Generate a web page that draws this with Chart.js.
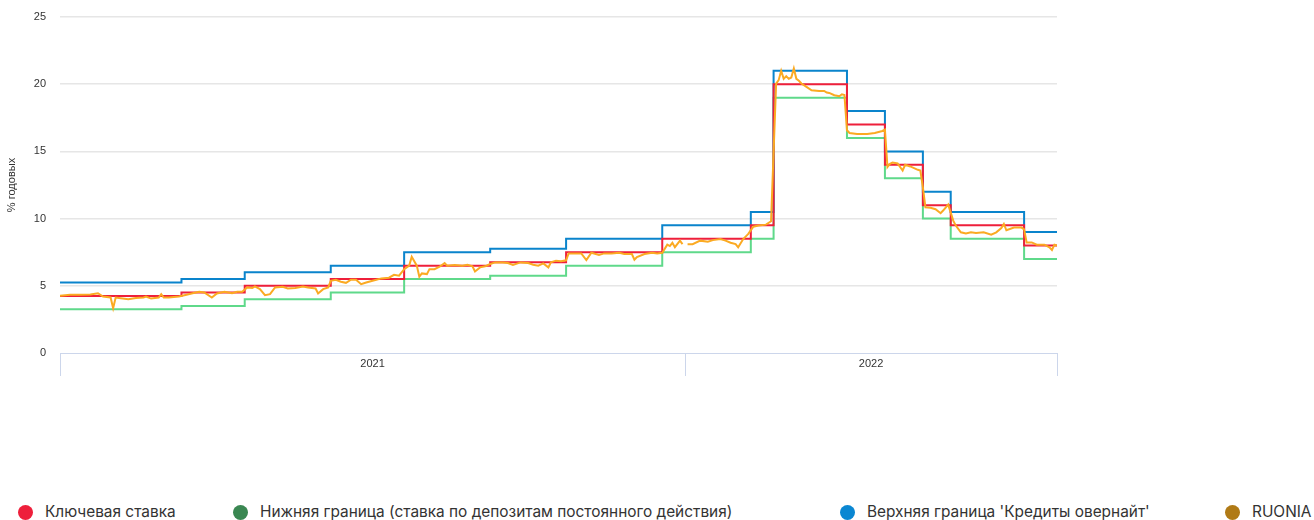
<!DOCTYPE html>
<html>
<head>
<meta charset="utf-8">
<script src="https://cdn.jsdelivr.net/npm/chart.js@4.4.1/dist/chart.umd.min.js"></script>
<style>
    html, body { margin: 0; padding: 0; background: #fff; }
    #wrap { position: relative; width: 1314px; height: 520px; }
    #box  { position: absolute; left: 0; top: 0; width: 1314px; height: 400px; }
    .legend-item {
        position: absolute; top: 503px; height: 18px;
        font-family: Inter, "Noto Sans", sans-serif; font-size: 15.4px; color: #333;
        white-space: nowrap; line-height: 18px;
    }
    .legend-item span.dot {
        display: inline-block; width: 15px; height: 15px; border-radius: 50%;
        vertical-align: -3px; margin-right: 12px;
    }
</style>
</head>
<body>
<div id="wrap">
    <div id="box"><canvas id="myChart"></canvas></div>
    <div id="legend"></div>
</div>

<script>
// x is the business-day index from the first day of 2021
const X_MAX       = 394;
const YEAR_BREAK  = 247;
const yearLabels  = ['2021', '2022'];

// key rate and the interest rate corridor: index where a value starts, value
const rateChangeAt = [0, 48, 73, 107, 136, 170, 200, 238, 273, 282, 311, 326, 341, 352, 381];
const keyRate      = [4.25, 4.5, 5.0, 5.5, 6.5, 6.75, 7.5, 8.5, 9.5, 20, 17, 14, 11, 9.5, 8];
const lowerBound   = [3.25, 3.5, 4.0, 4.5, 5.5, 5.75, 6.5, 7.5, 8.5, 19, 16, 13, 10, 8.5, 7];
const upperBound   = [5.25, 5.5, 6.0, 6.5, 7.5, 7.75, 8.5, 9.5, 10.5, 21, 18, 15, 12, 10.5, 9];

// RUONIA
const ruoniaX = [0, 4, 8, 12, 15, 17, 20, 21, 22, 24, 27, 30, 33, 34, 36, 39, 40, 41, 43, 47,
    50, 52, 55, 57, 60, 62, 65, 68, 70, 72, 74, 76, 77, 79, 81, 83, 85, 88, 90, 93,
    96, 98, 101, 102, 104, 106, 107, 109, 111, 113, 115, 117, 119, 121, 125, 127, 130, 132, 134, 136,
    138, 139, 141, 142, 143, 145, 146, 148, 150, 152, 153, 156, 159, 161, 163, 164, 166, 168, 170, 172,
    175, 177, 179, 182, 185, 187, 189, 191, 193, 194, 196, 198, 200, 201, 204, 206, 208, 210, 213, 215,
    218, 221, 223, 226, 227, 228, 231, 234, 236, 238, 240, 241, 242, 243, 245, 246, 247, 248, 250, 253,
    256, 258, 261, 263, 265, 267, 268, 270, 272, 274, 276, 279, 281, 283, 284, 285, 286, 287, 288, 289,
    290, 291, 292, 293, 295, 297, 300, 302, 303, 304, 306, 308, 309, 310, 311, 312, 315, 319, 322, 325,
    326, 327, 328, 329, 331, 333, 334, 336, 339, 340, 341, 342, 344, 346, 348, 349, 351, 353, 354, 356,
    358, 360, 362, 365, 368, 370, 372, 373, 374, 377, 380, 381, 382, 384, 386, 389, 391, 392, 393, 394];
const ruonia = [4.25, 4.33, 4.33, 4.35, 4.45, 4.2, 4.13, 3.33, 4.13, 4.08, 4.0, 4.1, 4.13, 4.2, 4.05, 4.13, 4.38, 4.13, 4.13, 4.2,
    4.33, 4.43, 4.55, 4.5, 4.13, 4.43, 4.55, 4.45, 4.55, 4.55, 4.88, 4.83, 4.95, 4.75, 4.3, 4.38, 4.88, 4.92, 4.8, 4.83,
    4.95, 4.88, 4.8, 4.43, 4.75, 4.88, 5.37, 5.45, 5.3, 5.22, 5.45, 5.45, 5.12, 5.25, 5.45, 5.55, 5.6, 5.82, 5.75, 6.24,
    6.5, 7.16, 6.5, 5.67, 5.92, 5.87, 6.24, 6.24, 6.42, 6.69, 6.5, 6.55, 6.5, 6.57, 6.45, 6.07, 6.37, 6.45, 6.62, 6.74,
    6.74, 6.69, 6.55, 6.74, 6.69, 6.57, 6.5, 6.67, 6.37, 6.74, 6.87, 6.82, 6.9, 7.41, 7.41, 7.41, 6.92, 7.46, 7.3, 7.41,
    7.41, 7.46, 7.36, 7.36, 6.94, 7.14, 7.36, 7.46, 7.41, 7.46, 8.06, 7.96, 8.2, 7.87, 8.36, 8.1, null, 8.1, 8.1, 8.36,
    8.28, 8.4, 8.48, 8.36, 8.2, 8.1, 7.86, 8.48, 8.86, 9.4, 9.48, 9.55, 9.8, 20.05, 20.3, 21.0, 20.4, 20.6, 20.4, 20.5,
    21.17, 20.4, 20.25, 20.05, 19.8, 19.55, 19.5, 19.5, 19.38, 19.35, 19.18, 19.1, 19.25, 19.2, 16.57, 16.37, 16.3, 16.3, 16.37, 16.52,
    16.62, 13.83, 14.08, 14.17, 14.1, 13.58, 14.0, 13.88, 13.63, 13.58, 12.33, 10.84, 10.8, 10.7, 10.4, 10.6, 11.04, 9.85, 9.48, 8.98,
    8.9, 8.98, 8.93, 8.98, 8.8, 8.98, 9.3, 9.6, 9.13, 9.33, 9.33, 9.2, 8.23, 8.23, 8.06, 8.06, 7.86, 7.66, 8.06, 8.0];

const seriesNames  = ['Ключевая ставка', 'Нижняя граница (ставка по депозитам постоянного действия)',
                      "Верхняя граница 'Кредиты овернайт'", 'RUONIA'];
const lineColors   = ['#ee1f3b', '#5fd98a', '#0a84cc', '#fbaa22'];
const legendColors = ['#ee1f3b', '#3a8752', '#0a87d2', '#b07a16'];
const legendLeft   = [18, 233, 840, 1225];

function stepData(values)
{
    const pts = rateChangeAt.map((x, i) => ({ x: x, y: values[i] }));
    pts.push({ x: X_MAX, y: values[values.length - 1] });
    return pts;
}

const ruoniaData = ruoniaX.map((x, i) => ({ x: x, y: ruonia[i] }));

function line(label, data, color, order, stepped)
{
    return {
        label: label, data: data, borderColor: color, backgroundColor: color,
        borderWidth: 2, pointRadius: 0, pointHoverRadius: 0, fill: false,
        stepped: stepped, order: order, spanGaps: false, tension: 0
    };
}

const AXIS_FONT = { family: '"Liberation Sans", Arial, sans-serif', size: 11 };
const centers   = [YEAR_BREAK / 2, (YEAR_BREAK + X_MAX) / 2];

const ctx = document.getElementById('myChart').getContext('2d');
new Chart(ctx, {
    type: 'line',
    data: {
        datasets: [
            line(seriesNames[0], stepData(keyRate),    lineColors[0], 1, 'before'),
            line(seriesNames[1], stepData(lowerBound), lineColors[1], 3, 'before'),
            line(seriesNames[2], stepData(upperBound), lineColors[2], 2, 'before'),
            line(seriesNames[3], ruoniaData,           lineColors[3], 0, false)
        ]
    },
    options: {
        responsive: true,
        maintainAspectRatio: false,
        animation: false,
        layout: { padding: { top: 17, right: 257, left: 0, bottom: 0 } },
        plugins: { legend: { display: false }, tooltip: { enabled: false } },
        scales: {
            x: {
                type: 'linear', min: 0, max: X_MAX, offset: false,
                afterBuildTicks: s => {
                    s.ticks = [0, centers[0], YEAR_BREAK, centers[1], X_MAX].map(v => ({ value: v }));
                },
                afterFit: s => { s.height = 47; s.paddingLeft = 0; s.paddingRight = 0; },
                border: { color: '#ccd6eb', width: 1 },
                grid: {
                    drawOnChartArea: false, drawTicks: true, tickLength: 23,
                    tickColor: c => centers.includes(c.tick.value) ? 'rgba(0,0,0,0)' : '#ccd6eb'
                },
                ticks: {
                    autoSkip: false, maxRotation: 0, padding: -19, color: '#333', font: AXIS_FONT,
                    callback: v => {
                        const i = centers.indexOf(v);
                        return i >= 0 ? yearLabels[i] : '';
                    }
                }
            },
            y: {
                min: 0, max: 25,
                afterFit: s => { s.width = 60; s.paddingTop = 0; s.paddingBottom = 0; },
                border: { display: false },
                grid: {
                    drawTicks: false, lineWidth: 1.5,
                    color: c => c.tick.value === 0 ? 'rgba(0,0,0,0)' : '#e6e6e6'
                },
                ticks: { stepSize: 5, padding: 14, color: '#333', font: AXIS_FONT },
                title: { display: true, text: '% годовых', color: '#333', font: AXIS_FONT, padding: { top: 5, bottom: 0 } }
            }
        }
    }
});

// legend under the plot
const legend = document.getElementById('legend');
seriesNames.forEach((name, i) =>
{
    const item = document.createElement('div');
    item.className = 'legend-item';
    item.style.left = legendLeft[i] + 'px';
    const dot = document.createElement('span');
    dot.className = 'dot';
    dot.style.background = legendColors[i];
    item.appendChild(dot);
    item.appendChild(document.createTextNode(name));
    legend.appendChild(item);
});
</script>
</body>
</html>
